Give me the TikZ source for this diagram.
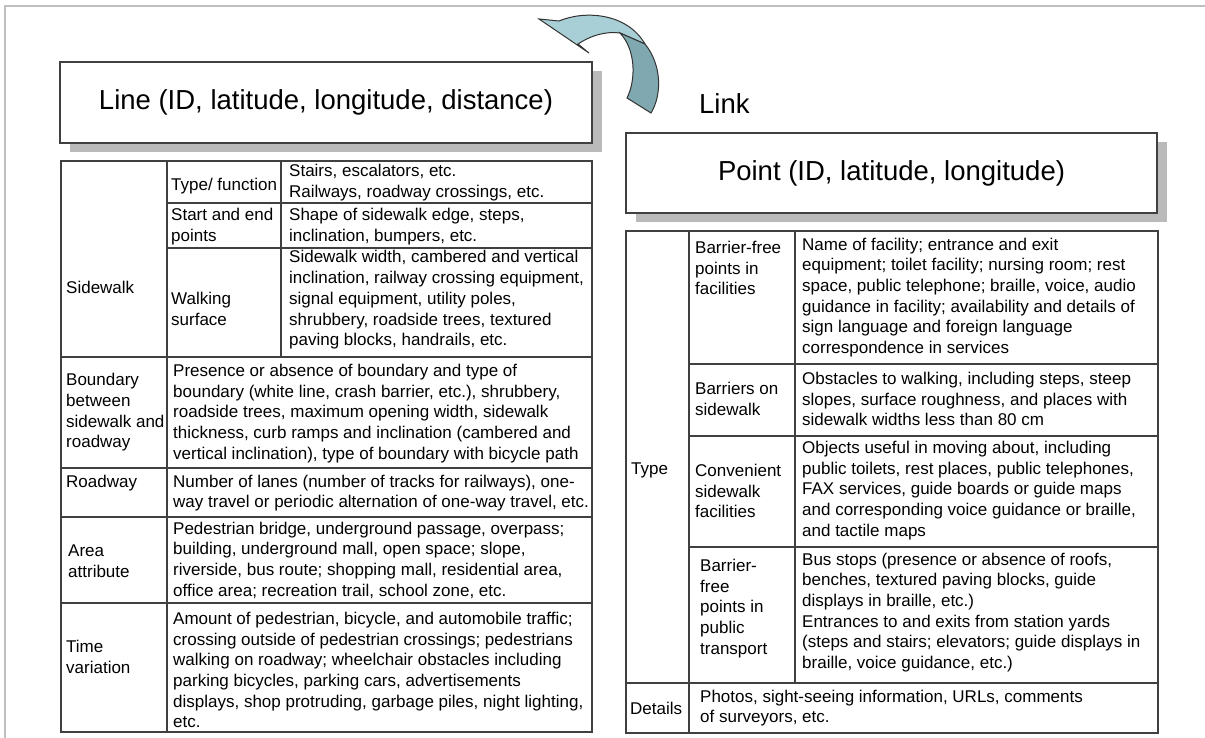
\documentclass[tikz,border=0pt]{standalone}
\usepackage{fontspec}
\setmainfont{Liberation Sans}
\usetikzlibrary{positioning}
\definecolor{arrowlight}{HTML}{A9CFD6}
\definecolor{arrowdark}{HTML}{80A8B0}

\begin{document}
\begin{tikzpicture}[x=1pt,y=-1pt]
\tikzset{
  cell/.style={anchor=west, inner sep=0pt, align=left, font=\fontsize{17}{20.7}\selectfont},
  head/.style={font=\fontsize{27.5}{32}\selectfont},
  grid/.style={draw=black!75, line width=1.4pt},
  titlebox/.style={draw=black!75, line width=1.4pt, fill=white, inner sep=0pt, head}
}
\useasboundingbox (0,0) rectangle (1205,738);

\draw[black!25, line width=1.2pt] (5,738) -- (5,6) -- (1205,6);

\fill[black!27] (70,71) rectangle (602,152);
\node[titlebox, minimum width=532pt, minimum height=81pt] (line) at (326,102.5) {Line (ID, latitude, longitude, distance)};

\fill[black!27] (636,142) rectangle (1167,222);
\node[titlebox, minimum width=531pt, minimum height=80pt] (point) at (891.5,173) {Point (ID, latitude, longitude)};

\node[head, anchor=west, inner sep=0pt] (link) at (699,104) {Link};

\filldraw[draw=black!80, fill=arrowlight, line width=1pt]
  (539,19) -- (559,21) .. controls (585,10) and (627,13) .. (645,44) -- (620,33)
  .. controls (605,31) and (590,36) .. (578,44) -- (589,53) -- cycle;
\filldraw[draw=black!80, fill=arrowdark, line width=1pt]
  (620,33) -- (645,44) .. controls (662,65) and (662,95) .. (651,113) -- (627,98)
  .. controls (636,80) and (636,50) .. (620,33) -- cycle;

\draw[grid] (61,161) rectangle (592,732);
\draw[grid] (167,161) -- (167,732);
\draw[grid] (281,161) -- (281,357);
\draw[grid] (167,203) -- (592,203);
\draw[grid] (167,248) -- (592,248);
\foreach \y in {357,468,517,603}
  \draw[grid] (61,\y) -- (592,\y);

\draw[grid] (626,231) rectangle (1158,733);
\draw[grid] (689,231) -- (689,733);
\draw[grid] (795,231) -- (795,683);
\foreach \y in {364,436,547}
  \draw[grid] (689,\y) -- (1158,\y);
\draw[grid] (626,683) -- (1158,683);

\node[cell] (sw) at (66,287) {Sidewalk};
\node[cell] (swtype) at (171,186) {Type/ function};
\node[cell] (swtypetx) at (289,182.5) {Stairs, escalators, etc.\\Railways, roadway crossings, etc.};
\node[cell] (swend) at (171,226.5) {Start and end\\points};
\node[cell] (swendtx) at (289,226.5) {Shape of sidewalk edge, steps,\\inclination, bumpers, etc.};
\node[cell] (swsurf) at (171,309) {Walking\\surface};
\node[cell] (swsurftx) at (289,300) {Sidewalk width, cambered and vertical\\inclination, railway crossing equipment,\\signal equipment, utility poles,\\shrubbery, roadside trees, textured\\paving blocks, handrails, etc.};
\node[cell] (bd) at (66,412.5) {Boundary\\between\\sidewalk and\\roadway};
\node[cell] (bdtx) at (173,413.5) {Presence or absence of boundary and type of\\boundary (white line, crash barrier, etc.), shrubbery,\\roadside trees, maximum opening width, sidewalk\\thickness, curb ramps and inclination (cambered and\\vertical inclination), type of boundary with bicycle path};
\node[cell] (rw) at (66,483) {Roadway};
\node[cell] (rwtx) at (173,493) {Number of lanes (number of tracks for railways), one-\\way travel or periodic alternation of one-way travel, etc.};
\node[cell] (area) at (68,561.5) {Area\\attribute};
\node[cell] (areatx) at (173,560) {Pedestrian bridge, underground passage, overpass;\\building, underground mall, open space; slope,\\riverside, bus route; shopping mall, residential area,\\office area; recreation trail, school zone, etc.};
\node[cell] (time) at (66,657) {Time\\variation};
\node[cell] (timetx) at (173,670) {Amount of pedestrian, bicycle, and automobile traffic;\\crossing outside of pedestrian crossings; pedestrians\\walking on roadway; wheelchair obstacles including\\parking bicycles, parking cars, advertisements\\displays, shop protruding, garbage piles, night lighting,\\etc.};

\node[cell] (type) at (631,470) {Type};
\node[cell] (fac) at (695,268) {Barrier-free\\points in\\facilities};
\node[cell] (factx) at (802,297.5) {Name of facility; entrance and exit\\equipment; toilet facility; nursing room; rest\\space, public telephone; braille, voice, audio\\guidance in facility; availability and details of\\sign language and foreign language\\correspondence in services};
\node[cell] (bar) at (695,399) {Barriers on\\sidewalk};
\node[cell] (bartx) at (802,399) {Obstacles to walking, including steps, steep\\slopes, surface roughness, and places with\\sidewalk widths less than 80 cm};
\node[cell] (conv) at (695,491) {Convenient\\sidewalk\\facilities};
\node[cell] (convtx) at (802,490.5) {Objects useful in moving about, including\\public toilets, rest places, public telephones,\\FAX services, guide boards or guide maps\\and corresponding voice guidance or braille,\\and tactile maps};
\node[cell] (pub) at (700,608.5) {Barrier-\\free\\points in\\public\\transport};
\node[cell] (pubtx) at (802,612.5) {Bus stops (presence or absence of roofs,\\benches, textured paving blocks, guide\\displays in braille, etc.)\\Entrances to and exits from station yards\\(steps and stairs; elevators; guide displays in\\braille, voice guidance, etc.)};
\node[cell] (det) at (630,708) {Details};
\node[cell] (dettx) at (700,708) {Photos, sight-seeing information, URLs, comments\\of surveyors, etc.};
\end{tikzpicture}
\end{document}
